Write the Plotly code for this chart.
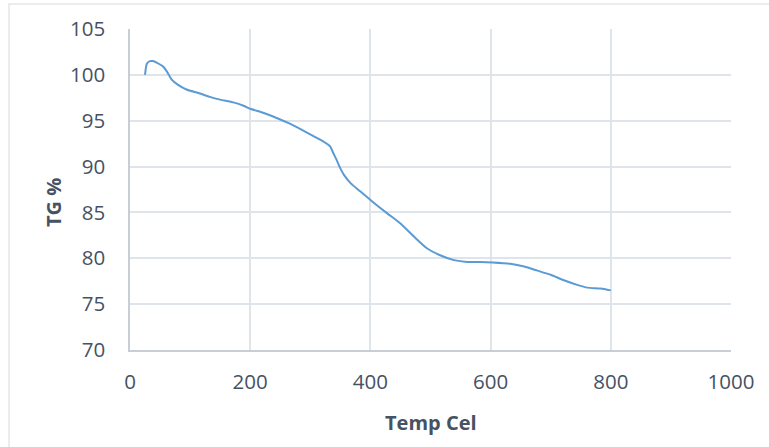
import plotly.graph_objects as go

temp_cel = [25, 28, 33, 38, 45, 55, 62, 69, 80, 94, 115, 133, 150, 172, 190, 200, 220, 244, 265, 283,
            306, 320, 333, 338, 344, 350, 356, 367, 383, 403, 428, 450, 472, 494, 517, 539, 561, 583,
            603, 633, 656, 678, 700, 722, 744, 761, 783, 800]
tg_pct = [100.0, 101.2, 101.5, 101.5, 101.3, 100.9, 100.3, 99.5, 98.9, 98.4, 98.0, 97.6, 97.3, 97.0,
          96.6, 96.3, 95.9, 95.3, 94.7, 94.1, 93.3, 92.8, 92.2, 91.5, 90.7, 89.8, 89.1, 88.2, 87.3,
          86.2, 84.9, 83.8, 82.4, 81.1, 80.3, 79.8, 79.6, 79.6, 79.55, 79.4, 79.1, 78.65, 78.2, 77.6,
          77.1, 76.8, 76.7, 76.5]

x_ticks = [0, 200, 400, 600, 800, 1000]
y_ticks = [70, 75, 80, 85, 90, 95, 100, 105]

text_color = "#465263"
grid_color = "#dfe3ea"
axis_color = "#c8cdd6"
font_family = "Open Sans"

fig = go.Figure()
fig.add_trace(go.Scatter(
    x=temp_cel, y=tg_pct, mode="lines",
    line=dict(color="#5B9BD5", width=2, shape="spline", smoothing=0.6),
    showlegend=False, hoverinfo="skip",
))

fig.update_layout(
    width=769, height=447,
    margin=dict(l=130, r=38, t=29, b=97),
    paper_bgcolor="white", plot_bgcolor="white",
    font=dict(family=font_family, color=text_color, size=20),
    xaxis=dict(
        range=[0, 1000], tickvals=x_ticks, ticktext=[str(v) for v in x_ticks],
        showgrid=True, gridcolor=grid_color, gridwidth=1.5,
        showline=True, linecolor=axis_color, linewidth=1.5,
        ticks="outside", ticklen=13, tickcolor="rgba(0,0,0,0)",
        zeroline=False, tickfont=dict(size=20.5, color=text_color),
    ),
    yaxis=dict(
        range=[70, 105], tickvals=y_ticks, ticktext=[str(v) for v in y_ticks],
        showgrid=True, gridcolor=grid_color, gridwidth=1.5,
        showline=True, linecolor=axis_color, linewidth=1.5,
        ticks="outside", ticklen=19, tickcolor="rgba(0,0,0,0)",
        zeroline=False, tickfont=dict(size=20.5, color=text_color),
    ),
    annotations=[
        dict(text="<b>Temp Cel</b>", xref="paper", yref="paper", x=0.5, y=-0.225,
             xanchor="center", yanchor="middle", showarrow=False,
             font=dict(size=20, color=text_color, family=font_family)),
        dict(text="<b>TG %</b>", xref="paper", yref="paper", x=-0.127, y=0.46,
             xanchor="center", yanchor="middle", showarrow=False, textangle=-90,
             font=dict(size=20, color=text_color, family=font_family)),
    ],
    shapes=[
        dict(type="rect", xref="paper", yref="paper", x0=-0.2013, x1=1.08, y0=-0.4, y1=1.078,
             line=dict(color="#e3e6ea", width=1.5), fillcolor="rgba(0,0,0,0)", layer="below"),
    ],
)

fig.write_html("out.html")
